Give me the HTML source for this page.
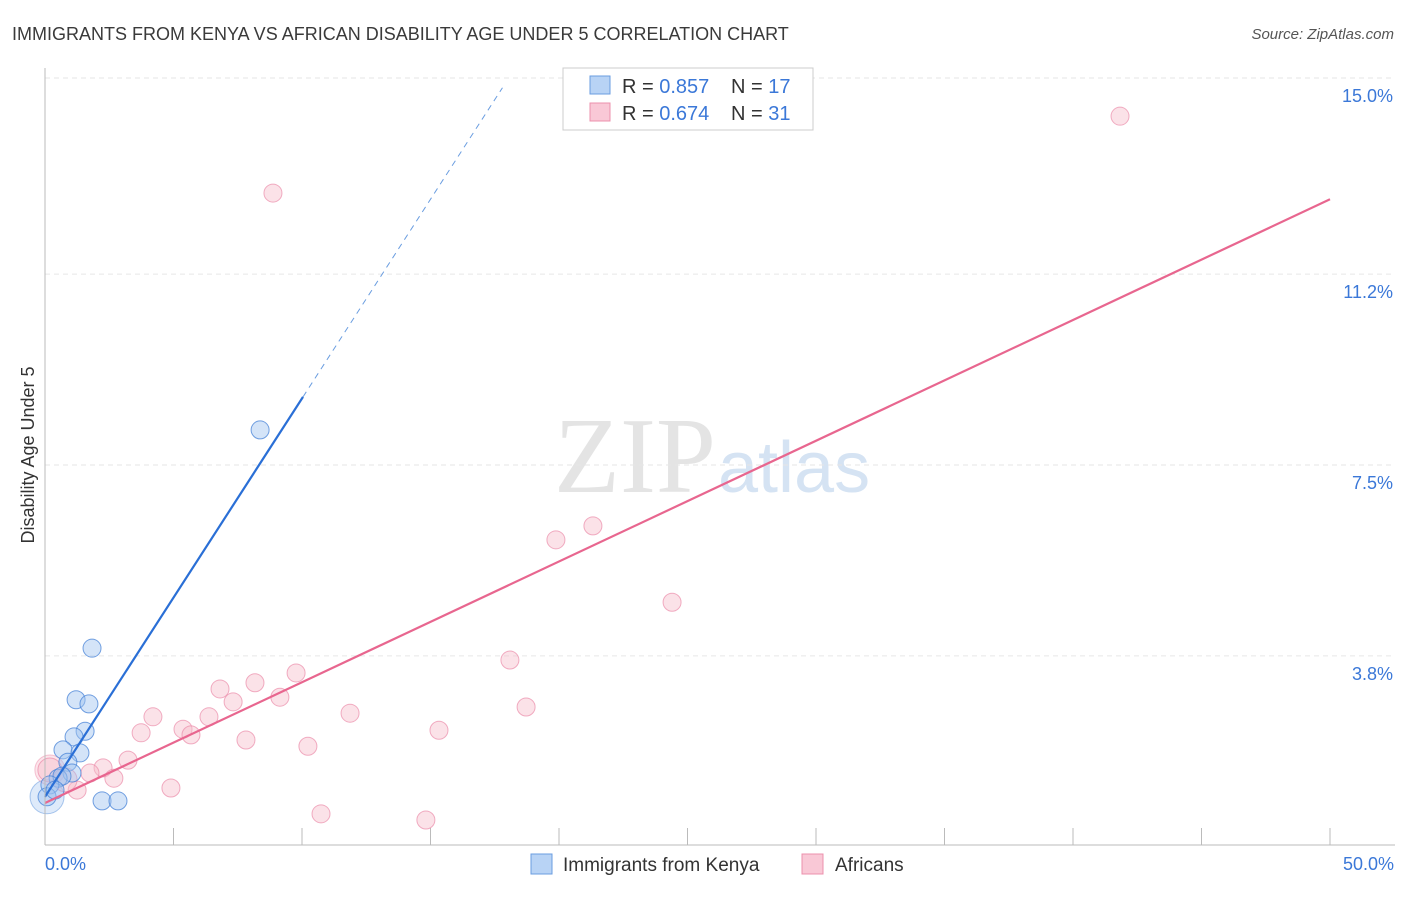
<!DOCTYPE html>
<html><head><meta charset="utf-8"><style>
body{margin:0;background:#fff;font-family:"Liberation Sans",sans-serif}
</style></head><body>
<svg id="c" width="1406" height="892">
<text x="12" y="40" font-size="18" fill="#3a3a3a">IMMIGRANTS FROM KENYA VS AFRICAN DISABILITY AGE UNDER 5 CORRELATION CHART</text>
<text x="1394" y="39" font-size="15" fill="#555" font-style="italic" text-anchor="end">Source: ZipAtlas.com</text>
<text x="716" y="492" font-size="108" fill="#e4e4e4" text-anchor="end" font-family="Liberation Serif">ZIP</text>
<text x="718" y="492" font-size="72" fill="#d5e3f3">atlas</text>
<text transform="translate(34,455) rotate(-90)" font-size="18" fill="#333" text-anchor="middle">Disability Age Under 5</text>
<g id="grid"></g><g id="marks"></g>
<line x1="45" y1="68" x2="45" y2="845" stroke="#bbb"/>
<line x1="45" y1="845" x2="1395" y2="845" stroke="#bbb"/>
<text x="45" y="870" font-size="18" fill="#3b78d8">0.0%</text>
<text x="1394" y="870" font-size="18" fill="#3b78d8" text-anchor="end">50.0%</text>
<g>
<rect x="563" y="68" width="250" height="62" fill="#fff" stroke="#ccc"/>
<rect x="590" y="76" width="20" height="18" fill="#b8d3f5" stroke="#6a9de0"/>
<text x="622" y="93" font-size="20" fill="#333">R = <tspan fill="#3b78d8">0.857</tspan><tspan x="731">N = </tspan><tspan fill="#3b78d8">17</tspan></text>
<rect x="590" y="103" width="20" height="18" fill="#f9c8d6" stroke="#ec90ac"/>
<text x="622" y="120" font-size="20" fill="#333">R = <tspan fill="#3b78d8">0.674</tspan><tspan x="731">N = </tspan><tspan fill="#3b78d8">31</tspan></text>
</g>
<g>
<rect x="531" y="854" width="21" height="20" fill="#b8d3f5" stroke="#6a9de0"/>
<text x="563" y="871" font-size="19" fill="#333">Immigrants from Kenya</text>
<rect x="802" y="854" width="21" height="20" fill="#f9c8d6" stroke="#ec90ac"/>
<text x="835" y="871" font-size="19" fill="#333">Africans</text>
</g>
</svg>
<script>
const yTicks=[15.0,11.2,7.5,3.8];
const yTickLabels=["15.0%","11.2%","7.5%","3.8%"];
const xTicks=[5,10,15,20,25,30,35,40,45,50];
const kenyaX=[1.83,1.21,1.71,1.56,1.13,0.70,1.36,0.89,1.05,0.51,0.66,0.19,0.08,2.22,2.84,8.37,0.39];
const kenyaY=[3.95,2.95,2.87,2.34,2.23,1.98,1.92,1.74,1.53,1.43,1.47,1.30,1.07,0.99,0.99,8.18,1.20];
const africansX=[8.87,41.83,21.32,19.88,24.40,18.09,9.77,8.17,6.81,9.14,7.32,18.72,4.20,6.38,11.87,5.37,3.74,5.68,15.33,7.82,10.23,3.23,2.26,2.68,1.75,1.25,4.90,10.74,14.82,0.19,0.78];
const africansY=[12.77,14.26,6.32,6.05,4.84,3.72,3.47,3.28,3.16,3.00,2.91,2.81,2.62,2.62,2.69,2.38,2.31,2.27,2.36,2.17,2.05,1.78,1.63,1.43,1.53,1.20,1.24,0.74,0.62,1.59,1.40];
const kenyaTrend=[1.07,0.772];
const africansTrend=[0.95,0.234];
const X=v=>45+v*25.7, Y=v=>852-v*51.6;
const NS="http://www.w3.org/2000/svg";
function mk(t,a,p){const e=document.createElementNS(NS,t);for(const k in a)e.setAttribute(k,a[k]);p.appendChild(e);return e;}
const grid=document.getElementById('grid'),marks=document.getElementById('marks');
yTicks.forEach((v,i)=>{
 const l=mk('line',{x1:45,x2:1395,y1:Y(v),y2:Y(v),stroke:'#e6e6e6','stroke-dasharray':'5,4'},grid);
 
 
 const t=mk('text',{x:1393,y:Y(v)+24,'font-size':18,fill:'#3b78d8','text-anchor':'end'},grid);
 t.textContent=yTickLabels[i];
 
 
});
xTicks.forEach(v=>{
 const l=mk('line',{x1:X(v),x2:X(v),y1:828,y2:845,stroke:'#bbb'},grid);
 
 
});
const b1=mk('circle',{cx:X(0.08),cy:Y(1.07),r:17,fill:'rgba(160,195,240,0.35)',stroke:'rgba(90,145,220,0.5)'},marks);


const b2=mk('circle',{cx:X(0.19),cy:Y(1.59),r:15,fill:'rgba(247,190,205,0.4)',stroke:'rgba(235,140,170,0.5)'},marks);


africansX.forEach((x,i)=>{
 const c=mk('circle',{cx:X(x),cy:Y(africansY[i]),r:i>=29?12:9,fill:'rgba(247,190,205,0.45)',stroke:'rgba(235,140,170,0.7)'},marks);
 
 
});
kenyaX.forEach((x,i)=>{
 const c=mk('circle',{cx:X(x),cy:Y(kenyaY[i]),r:9,fill:'rgba(160,195,240,0.45)',stroke:'rgba(70,130,215,0.75)'},marks);
 
 
});
let l=mk('line',{x1:X(0),y1:Y(kenyaTrend[0]),x2:X(10.04),y2:Y(kenyaTrend[0]+kenyaTrend[1]*10.04),stroke:'#2a6fd6','stroke-width':2.2},marks);


l=mk('line',{x1:X(10.04),y1:Y(kenyaTrend[0]+kenyaTrend[1]*10.04),x2:X(17.8),y2:Y(kenyaTrend[0]+kenyaTrend[1]*17.8),stroke:'#6a9de0','stroke-width':1,'stroke-dasharray':'6,5'},marks);


l=mk('line',{x1:X(0),y1:Y(africansTrend[0]),x2:X(50),y2:Y(africansTrend[0]+africansTrend[1]*50),stroke:'#e8668f','stroke-width':2.2},marks);


</script>
</body></html>
